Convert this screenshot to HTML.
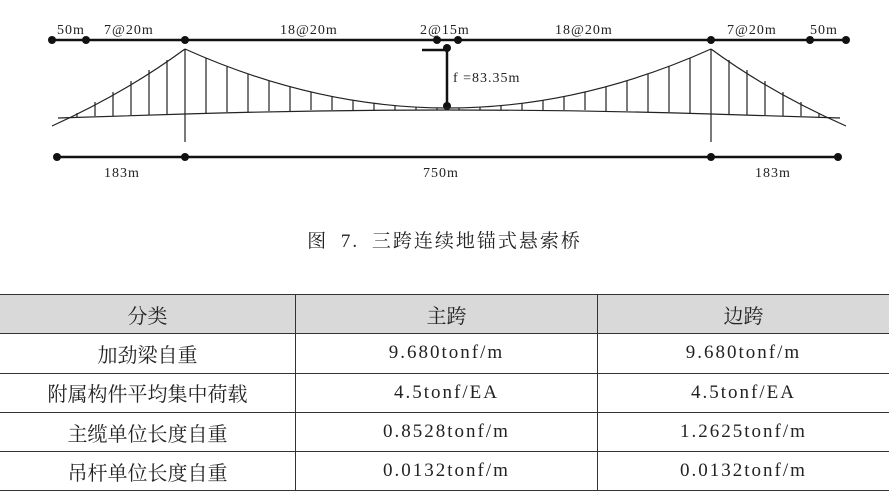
<!DOCTYPE html>
<html><head><meta charset="utf-8"><style>
body{margin:0;background:#fff;width:889px;height:500px;overflow:hidden;position:relative;font-family:"Liberation Serif","Noto Serif CJK SC",serif;}
svg{position:absolute;left:0;top:0}
.cap{position:absolute;top:226px;left:0;width:889px;text-align:center;font-size:19px;color:#222;letter-spacing:2px;word-spacing:6px}
table{position:absolute;top:294px;left:0;width:889px;border-collapse:collapse;font-size:20px;color:#222}
td{border:1.5px solid #333;height:38.3px;text-align:center;padding:0}
tr:first-child td{background:#d9d9d9}
td:first-child{border-left:none}td:last-child{border-right:none}
.v{font-size:19px;letter-spacing:2px}
</style></head><body>
<svg width="889" height="200" viewBox="0 0 889 200" font-family="Liberation Serif,serif" font-size="14" letter-spacing="1" fill="#222">
<g stroke="#111" stroke-width="2.5"><line x1="52" y1="40" x2="846" y2="40"/><line x1="57" y1="157" x2="838" y2="157"/>
<line x1="447" y1="47" x2="447" y2="106"/><line x1="422" y1="50" x2="447" y2="50"/></g>
<g fill="#111"><circle cx="52" cy="40" r="4"/><circle cx="86" cy="40" r="4"/><circle cx="185" cy="40" r="4"/><circle cx="437" cy="40" r="4"/><circle cx="458" cy="40" r="4"/><circle cx="711" cy="40" r="4"/><circle cx="810" cy="40" r="4"/><circle cx="846" cy="40" r="4"/>
<circle cx="57" cy="157" r="4"/><circle cx="185" cy="157" r="4"/><circle cx="711" cy="157" r="4"/><circle cx="838" cy="157" r="4"/><circle cx="447" cy="48" r="4"/><circle cx="447" cy="106" r="4"/></g>
<g stroke="#222" stroke-width="1.2" fill="none">
<path d="M185 49 Q448 167 711 49"/><path d="M52 126 Q125 93 185 49"/><path d="M846 126 Q771 93 711 49"/>
<path d="M58 118 L185 114 Q448 106 711 114 L840 118"/>
<line x1="185" y1="49" x2="185" y2="142"/><line x1="711" y1="49" x2="711" y2="142"/>
<path d="M206 58V113M227 66V112M248 74V112M269 81V111M290 87V111M311 92V110M332 96V110M353 100V110M374 103V110M395 106V110M416 107V110M437 108V110M459 108V110M480 107V110M501 106V110M522 103V110M543 100V110M564 96V110M585 92V110M606 87V111M627 81V111M648 74V112M669 66V112M690 58V113"/>
<path d="M167 60V114M149 70V115M131 81V115M113 92V116M95 102V116M77 113V117M729 60V114M747 70V115M765 81V115M783 92V116M801 102V116M819 113V117"/>
</g>
<text x="57" y="34">50m</text><text x="104" y="34">7@20m</text><text x="280" y="34">18@20m</text><text x="420" y="34">2@15m</text><text x="555" y="34">18@20m</text><text x="727" y="34">7@20m</text><text x="810" y="34">50m</text>
<text x="453" y="82">f =83.35m</text><text x="104" y="177">183m</text><text x="423" y="177">750m</text><text x="755" y="177">183m</text>
</svg>
<div class="cap">图 7. 三跨连续地锚式悬索桥</div>
<table>
<tr><td style="width:295px">分类</td><td style="width:301px">主跨</td><td>边跨</td></tr>
<tr><td>加劲梁自重</td><td class="v">9.680tonf/m</td><td class="v">9.680tonf/m</td></tr>
<tr><td>附属构件平均集中荷载</td><td class="v">4.5tonf/EA</td><td class="v">4.5tonf/EA</td></tr>
<tr><td>主缆单位长度自重</td><td class="v">0.8528tonf/m</td><td class="v">1.2625tonf/m</td></tr>
<tr><td>吊杆单位长度自重</td><td class="v">0.0132tonf/m</td><td class="v">0.0132tonf/m</td></tr>
</table>
</body></html>
